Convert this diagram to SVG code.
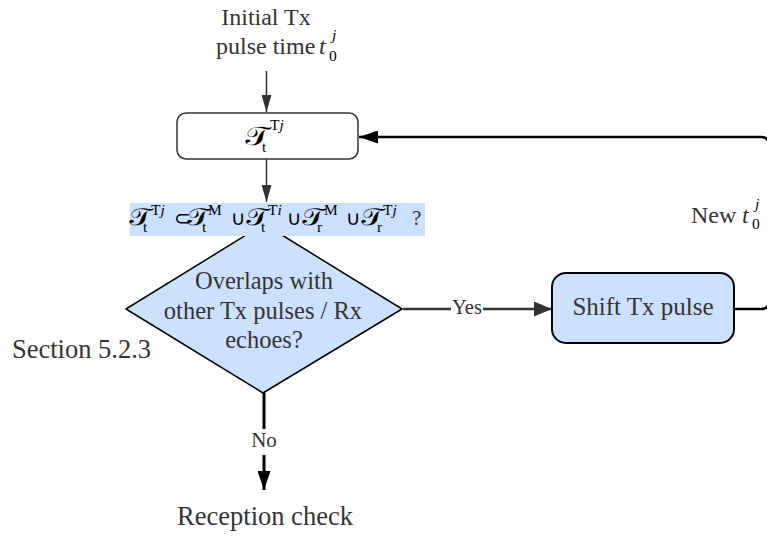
<svg xmlns="http://www.w3.org/2000/svg" width="767" height="536" viewBox="0 0 767 536">
<defs>
<style>
.t{font-family:"Liberation Serif","Times New Roman",serif;fill:#333;}
.m{font-family:"DejaVu Serif","Liberation Serif",serif;fill:#000;}
.s{font-family:"Liberation Serif","Times New Roman",serif;fill:#000;font-size:15.5px;}
.op{font-family:"DejaVu Sans",sans-serif;fill:#000;font-size:20px;}
</style>
<marker id="ag" viewBox="0 0 10 10" refX="10" refY="5" markerWidth="17" markerHeight="10" markerUnits="userSpaceOnUse" orient="auto" preserveAspectRatio="none"><path d="M0,0 L10,5 L0,10 z" fill="#333"/></marker>
<marker id="ab" viewBox="0 0 10 10" refX="10" refY="5" markerWidth="19" markerHeight="13" markerUnits="userSpaceOnUse" orient="auto" preserveAspectRatio="none"><path d="M0,0 L10,5 L0,10 z" fill="#000"/></marker>
<marker id="ay" viewBox="0 0 10 10" refX="10" refY="5" markerWidth="18" markerHeight="15" markerUnits="userSpaceOnUse" orient="auto" preserveAspectRatio="none"><path d="M0,0 L10,5 L0,10 z" fill="#333"/></marker>
</defs>
<rect width="767" height="536" fill="#fff"/>
<g id="connectors">
<line x1="266.5" y1="71" x2="266.5" y2="112" stroke="#333" stroke-width="1.5" marker-end="url(#ag)"/>
<line x1="266.5" y1="159" x2="266.5" y2="202" stroke="#333" stroke-width="1.5" marker-end="url(#ag)"/>
<line x1="403" y1="309" x2="552" y2="309" stroke="#333" stroke-width="2.5" marker-end="url(#ay)"/>
<rect x="451" y="294" width="32" height="24" fill="#fff"/>
<text class="t" x="467" y="314" font-size="20.5" text-anchor="middle">Yes</text>
<path d="M734,309 L761,309 Q769,309 769,301 L769,145 Q769,137 761,137 L359,137" fill="none" stroke="#000" stroke-width="2.5" marker-end="url(#ab)"/>
<line x1="264" y1="393" x2="264" y2="490" stroke="#000" stroke-width="3" marker-end="url(#ab)"/>
<rect x="248" y="429" width="32" height="26" fill="#fff"/>
<text class="t" x="264" y="447" font-size="21" text-anchor="middle">No</text>
</g>
<g id="start">
<text class="t" x="266" y="25" font-size="24" text-anchor="middle">Initial Tx</text>
<text class="t" x="216" y="54" font-size="24">pulse time</text>
<text class="t" x="319" y="54" font-size="24" font-style="italic" fill="#000">t</text>
<text class="s" x="329" y="61" font-size="15">0</text>
<text class="s" x="332" y="40" font-size="15" font-style="italic">j</text>
</g>
<g id="box">
<rect x="177" y="113" width="181" height="46" rx="9" fill="#fff" stroke="#333" stroke-width="1.5"/>
<text class="m" transform="translate(246,145) scale(1.3,1) skewX(10)" font-size="26">𝒯</text>
<text class="s" x="262" y="152">t</text>
<text class="s" x="270" y="130">T<tspan font-style="italic">j</tspan></text>
</g>
<g id="decision">
<polygon points="264,224 402,309 263,393 126,309" fill="#cce0ff" stroke="#000" stroke-width="1.5" stroke-linejoin="round"/>
<text class="t" x="264" y="289" font-size="24.5" text-anchor="middle">Overlaps with</text>
<text class="t" x="263" y="319" font-size="24.5" text-anchor="middle">other Tx pulses / Rx</text>
<text class="t" x="264" y="348" font-size="24.5" text-anchor="middle">echoes?</text>
</g>
<g id="condition">
<rect x="130" y="203" width="295" height="33" fill="#cce0ff"/>
<g class="m" font-size="24">
<text transform="translate(130,225) scale(1.3,1) skewX(10)">𝒯</text>
<text transform="translate(188,225) scale(1.3,1) skewX(10)">𝒯</text>
<text transform="translate(247,225) scale(1.3,1) skewX(10)">𝒯</text>
<text transform="translate(303,225) scale(1.3,1) skewX(10)">𝒯</text>
<text transform="translate(362,225) scale(1.3,1) skewX(10)">𝒯</text>
</g>
<text class="op" x="174" y="225">⊂</text>
<text class="op" x="231" y="225">∪</text>
<text class="op" x="287" y="225">∪</text>
<text class="op" x="346" y="225">∪</text>
<text class="s" x="143" y="232">t</text>
<text class="s" x="151" y="215">T<tspan font-style="italic">j</tspan></text>
<text class="s" x="202" y="232">t</text>
<text class="s" x="208" y="215">M</text>
<text class="s" x="261" y="232">t</text>
<text class="s" x="268" y="215">T<tspan font-style="italic">i</tspan></text>
<text class="s" x="317" y="232">r</text>
<text class="s" x="324" y="215">M</text>
<text class="s" x="377" y="232">r</text>
<text class="s" x="383" y="215">T<tspan font-style="italic">j</tspan></text>
<text class="t" x="412" y="225" font-size="21" fill="#000">?</text>
</g>
<g id="shift">
<rect x="552" y="273" width="182" height="70" rx="14" fill="#cce0ff" stroke="#000" stroke-width="2"/>
<text class="t" x="643" y="315" font-size="25" text-anchor="middle">Shift Tx pulse</text>
</g>
<g id="newlabel">
<text class="t" x="691" y="223" font-size="24">New</text>
<text class="t" x="742" y="223" font-size="24" font-style="italic" fill="#000">t</text>
<text class="s" x="752" y="229" font-size="15">0</text>
<text class="s" x="755" y="209" font-size="15" font-style="italic">j</text>
</g>
<g id="section">
<text class="t" x="12" y="358" font-size="26.5">Section 5.2.3</text>
</g>
<g id="reception">
<text class="t" x="265" y="525" font-size="26.5" text-anchor="middle">Reception check</text>
</g>
</svg>
